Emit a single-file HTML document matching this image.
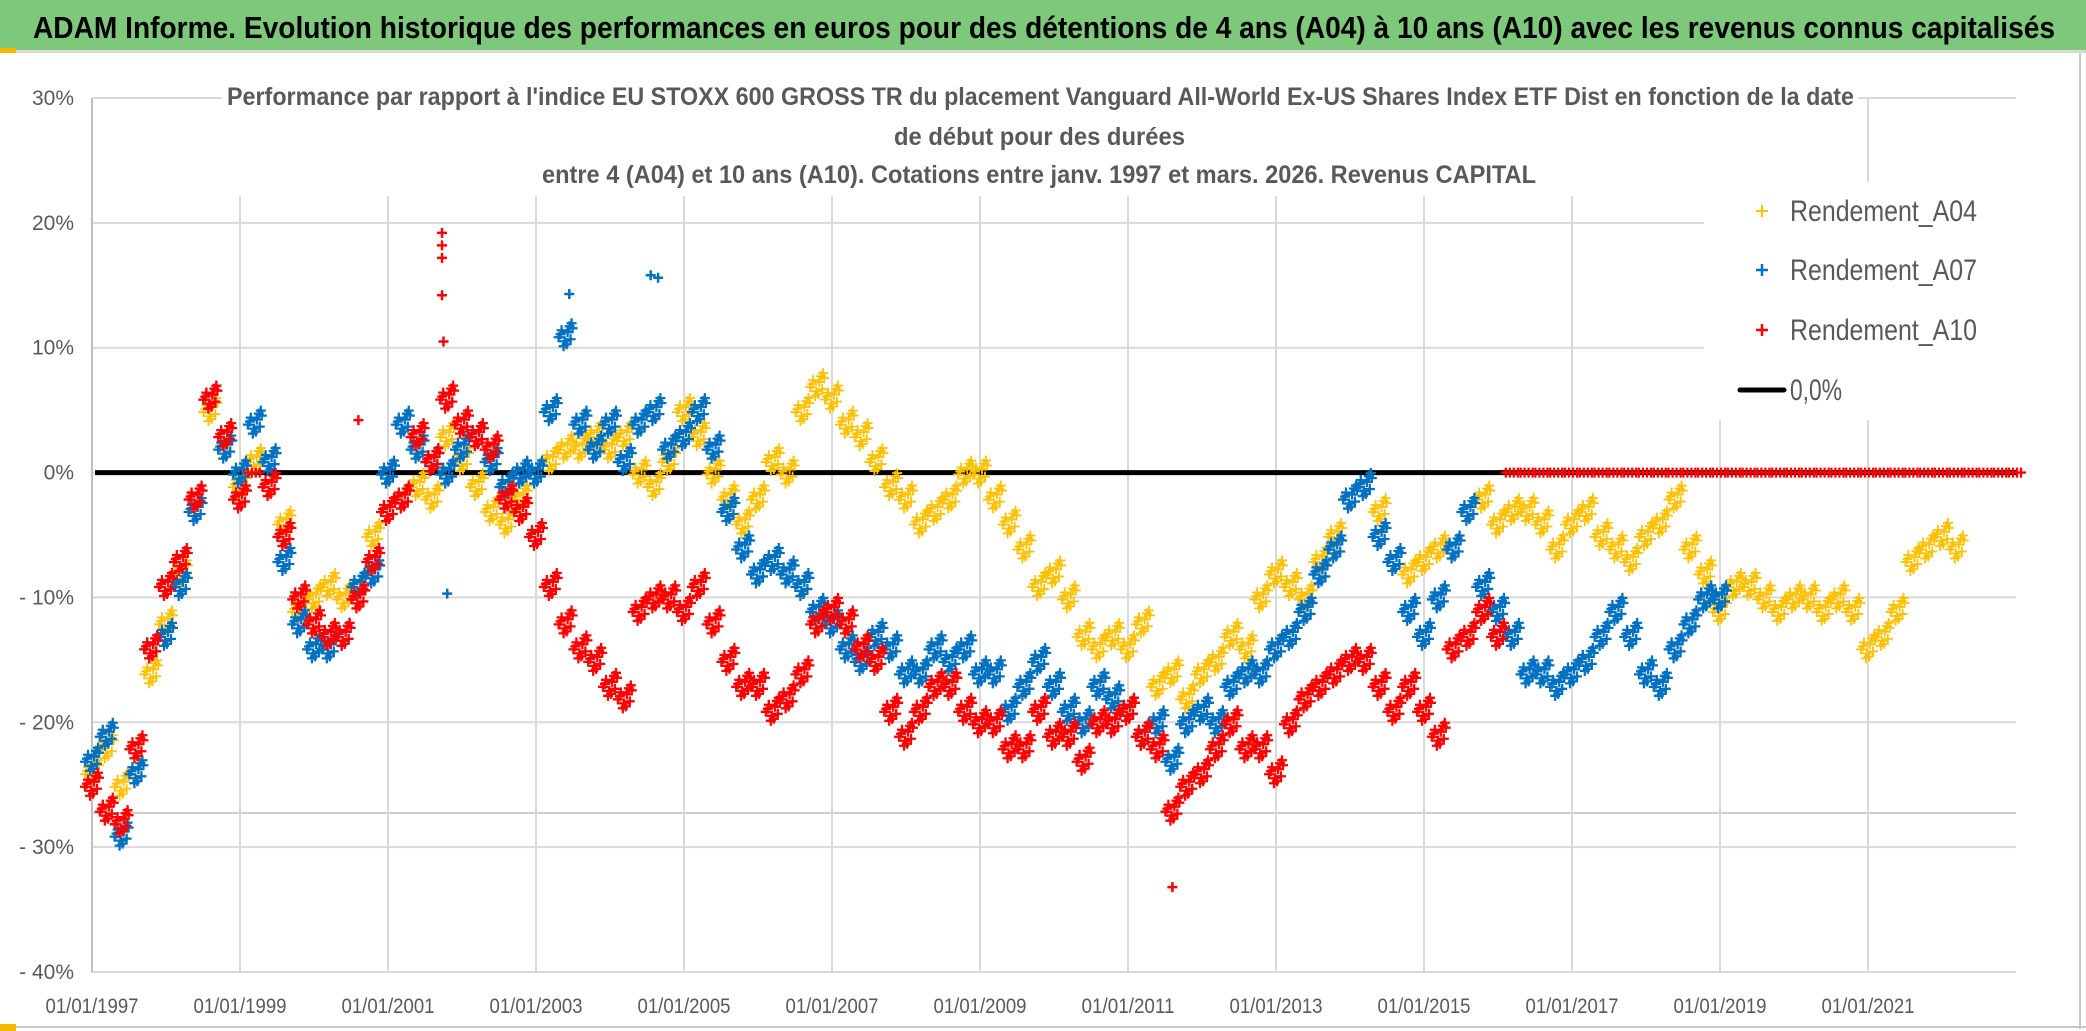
<!DOCTYPE html>
<html><head><meta charset="utf-8"><style>
html,body{margin:0;padding:0;background:#fff;}
svg{display:block;}
</style></head><body>
<svg id="chart" width="2086" height="1031" viewBox="0 0 2086 1031" xmlns="http://www.w3.org/2000/svg">
  <rect x="0" y="0" width="2086" height="1031" fill="#ffffff"/>
  <rect x="0" y="0" width="2086" height="50" fill="#7dc87b"/>
  <rect x="0" y="50" width="2086" height="3" fill="#d8d8d8"/>
  <rect x="0" y="48" width="16" height="5" fill="#f5b800"/>
  <text x="33" y="38" font-family="'Liberation Sans Narrow','Liberation Sans',sans-serif" font-weight="bold" font-size="31" fill="#000" textLength="2022" lengthAdjust="spacingAndGlyphs">ADAM Informe. Evolution historique des performances en euros pour des détentions de 4 ans (A04) à 10 ans (A10) avec les revenus connus capitalisés</text>
  <g id="grid"></g>
  <g id="axes"></g>
  <rect x="222" y="78" width="1636" height="118" fill="#ffffff"/>
  <g font-family="'Liberation Sans Narrow','Liberation Sans',sans-serif" font-size="25" fill="#595959" font-weight="bold">
    <text x="227" y="105" textLength="1627" lengthAdjust="spacingAndGlyphs">Performance par rapport à l'indice EU STOXX 600 GROSS TR  du placement Vanguard All-World Ex-US Shares Index ETF Dist en fonction de la date</text>
    <text x="894" y="145" textLength="291" lengthAdjust="spacingAndGlyphs">de début pour des durées</text>
    <text x="542" y="183" textLength="994" lengthAdjust="spacingAndGlyphs">entre 4 (A04) et 10 ans (A10). Cotations entre janv. 1997 et mars. 2026. Revenus CAPITAL</text>
  </g>
  <g id="zero"></g>
  <g id="series"></g>
  <rect x="1704" y="182" width="312" height="238" fill="#ffffff"/>
  <g font-family="'Liberation Sans Narrow','Liberation Sans',sans-serif" font-size="30" fill="#595959">
    <g>
      <path d="M1756 211h12M1762 205v12" stroke="#ffc000" stroke-width="2"/>
      <text x="1790" y="221" textLength="187" lengthAdjust="spacingAndGlyphs">Rendement_A04</text>
    </g>
    <g>
      <path d="M1756 270h12M1762 264v12" stroke="#0070c0" stroke-width="2.5"/>
      <text x="1790" y="280" textLength="187" lengthAdjust="spacingAndGlyphs">Rendement_A07</text>
    </g>
    <g>
      <path d="M1756 330h12M1762 324v12" stroke="#ff0000" stroke-width="2.5"/>
      <text x="1790" y="340" textLength="187" lengthAdjust="spacingAndGlyphs">Rendement_A10</text>
    </g>
    <g>
      <line x1="1740" y1="390" x2="1784" y2="390" stroke="#000" stroke-width="5" stroke-linecap="round"/>
      <text x="1790" y="400" textLength="52" lengthAdjust="spacingAndGlyphs">0,0%</text>
    </g>
  </g>
  <rect x="2079" y="53" width="2" height="976" fill="#c8c8c8"/>
  <rect x="0" y="1026" width="2086" height="2" fill="#c8c8c8"/>
  <rect x="0" y="1024" width="16" height="7" fill="#f5b800"/>
</svg>
<script>
// ---- chart data ----
const xTickYears = [1997,1999,2001,2003,2005,2007,2009,2011,2013,2015,2017,2019,2021];
const xTickLabels = ["01/01/1997","01/01/1999","01/01/2001","01/01/2003","01/01/2005","01/01/2007","01/01/2009","01/01/2011","01/01/2013","01/01/2015","01/01/2017","01/01/2019","01/01/2021"];
const yTickValues = [30,20,10,0,-10,-20,-30,-40];
const yTickLabels = ["30%","20%","10%","0%","- 10%","- 20%","- 30%","- 40%"];
const seriesStart = 1997.0;
const seriesStep = 0.2;
const a04Values = [-24,-22,-25,-24,-16, -12,-8,-3,5,2, -1,1,-1,-4,-11, -10,-9,-10,-9,-5, -3,-2,-1,-2,3,
  1,-1,-3,-4,-2, 0,1,2,2,3, 2,3,0,-1,1, 5,3,0,-2,-4, -2,1,0,5,7, 6,4,3,1,-1, -2,-4,-3,-2,0,
  0,-2,-4,-6,-9, -8,-10,-13,-14,-13, -14,-12,-17,-16,-18, -16,-15,-13,-14,-10, -8,-9,-10,-7,-5,
  -2,-1,-3,-7,-8, -7,-6,-6,-3,-2, -4,-3,-3,-4,-6, -4,-3,-5,-6,-7, -5,-4,-2,-6,-8,
  -11,-9,-9,-10,-11, -10,-10,-11,-10,-11, -14,-13,-11,-7,-6, -5,-6];
const a07Values = [-23,-21,-29,-24,-14, -13,-9,-3,6,2, 0,4,1,-7,-12, -14,-14,-13,-9,-8, 0,4,2,1,0,
  2,3,1,-1,0, 0,5,11,4,2, 4,1,4,5,2, 3,5,2,-3,-6, -8,-7,-8,-9,-11, -12,-14,-15,-13,-14,
  -16,-16,-14,-15,-14, -16,-16,-19,-17,-15, -17,-19,-20,-17,-18, -19,-21,-20,-23,-20,
  -19,-20,-17,-16,-16, -14,-13,-11,-8,-6, -2,-1,-5,-7,-11, -13,-10,-6,-3,-9,
  -11,-13,-16,-16,-17, -16,-15,-13,-11,-13, -16,-17,-14,-12,-10, -10];
const a10Values = [-25,-27,-28,-22,-14, -9,-7,-2,6,3, -2,0,-1,-5,-10, -12,-13,-13,-10,-7, -3,-2,3,1,6,
  4,3,2,-2,-3, -5,-9,-12,-14,-15, -17,-18,-11,-10,-10, -11,-9,-12,-15,-17, -17,-19,-18,-16,-12,
  -11,-12,-14,-15,-19, -21,-19,-17,-17,-19, -20,-20,-22,-22,-19, -21,-21,-23,-20,-20,
  -19,-21,-22,-27,-25, -24,-22,-20,-22,-22, -24,-20,-18,-17,-16, -15,-15,-17,-19,-17,
  -19,-21,-14,-13,-11, -13,
  0,0,0,0, 0,0,0,0,0, 0,0,0,0,0, 0,0,0,0,0, 0,0,0,0,0, 0,0,0,0,0, 0,0,0,0,0, 0];
const outlierA07Years = [2003.45, 2004.55, 2004.65, 2001.8];
const outlierA07Values = [14.3, 15.8, 15.6, -9.7];
const outlierA10Years = [2001.73, 2001.73, 2001.73, 2001.73, 2001.75, 2011.6, 2000.6];
const outlierA10Values = [19.2, 18.2, 17.2, 14.2, 10.5, -33.2, 4.2];

// ---- axes ----
const PX0 = 92, PX1 = 2016, YEAR0 = 1997, YEAR1 = 2023;
const PY_TOP = 98, PY_BOT = 972, VMAX = 30, VMIN = -40;
function xScale(yr){ return PX0 + (yr - YEAR0) / (YEAR1 - YEAR0) * (PX1 - PX0); }
function yScale(v){ return PY_TOP + (VMAX - v) / (VMAX - VMIN) * (PY_BOT - PY_TOP); }
const NS = "http://www.w3.org/2000/svg";
function mk(tag, attrs, parent){ const e = document.createElementNS(NS, tag); for (const k in attrs) e.setAttribute(k, attrs[k]); parent.appendChild(e); return e; }

const grid = document.getElementById('grid');
const axes = document.getElementById('axes');
yTickValues.forEach((v, i) => {
  const gl = mk('line', {x1: PX0, x2: PX1, y1: yScale(v), y2: yScale(v), stroke: '#d9d9d9', 'stroke-width': 2}, grid);
  
  
  const t = mk('text', {x: 74, y: yScale(v) + 7, 'text-anchor': 'end', 'font-family': "'Liberation Sans Narrow','Liberation Sans',sans-serif", 'font-size': 21, fill: '#595959'}, axes);
  t.textContent = yTickLabels[i];
  
  
});
const extra = mk('line', {x1: PX0, x2: PX1, y1: 813, y2: 813, stroke: '#cfcfcf', 'stroke-width': 2}, grid);


xTickYears.forEach((yr, i) => {
  const x = xScale(yr);
  if (i > 0) {
    const gl = mk('line', {x1: x, x2: x, y1: PY_TOP, y2: PY_BOT, stroke: '#d9d9d9', 'stroke-width': 2}, grid);
    
    
  }
  const t = mk('text', {x: x, y: 1013, 'text-anchor': 'middle', 'font-family': "'Liberation Sans Narrow','Liberation Sans',sans-serif", 'font-size': 21, fill: '#595959', textLength: 93, lengthAdjust: 'spacingAndGlyphs'}, axes);
  t.textContent = xTickLabels[i];
  
  
});
const yAxis = mk('line', {x1: PX0, x2: PX0, y1: PY_TOP, y2: PY_BOT, stroke: '#bfbfbf', 'stroke-width': 2}, axes);



const zl = mk('line', {x1: PX0 + 3, x2: PX1, y1: yScale(0), y2: yScale(0), stroke: '#000', 'stroke-width': 5}, document.getElementById('zero'));



// ---- series ----
const series = document.getElementById('series');
const clusterDx = [-7, -4, -1, 2, 5, 7, -5, 1, 4, -2, 6];
const clusterDy = [2, -5, 6, -3, 4, -7, -1, 9, -9, 11, -12];
const flatDx = [-7, -3, 1, 5];
function drawSeries(values, color, name, sw){
  const g = mk('g', {stroke: color, 'stroke-width': sw, fill: 'none'}, series);
  
  
  let d = '';
  values.forEach((v, i) => {
    const cx = xScale(seriesStart + i * seriesStep), cy = yScale(v);
    const flat = (v === 0 && name === 'series-a10');
    const n = flat ? flatDx.length : clusterDx.length;
    for (let k = 0; k < n; k++) {
      const x = cx + (flat ? flatDx[k] : clusterDx[k]);
      const y = cy + (flat ? 0 : clusterDy[k]);
      d += 'M' + (x - 5) + ' ' + y + 'h10M' + x + ' ' + (y - 5) + 'v10';
    }
  });
  const p = mk('path', {d: d}, g);
  
  
  return g;
}
function drawOutliers(years, values, color, name){
  let d = '';
  years.forEach((yr, i) => { const x = xScale(yr), y = yScale(values[i]); d += 'M' + (x - 5) + ' ' + y + 'h10M' + x + ' ' + (y - 5) + 'v10'; });
  const p = mk('path', {d: d, stroke: color, 'stroke-width': 2.5, fill: 'none'}, series);
  
  
}
drawSeries(a04Values, '#ffc000', 'series-a04', 1.8);
drawSeries(a07Values, '#0070c0', 'series-a07', 2.3);
drawOutliers(outlierA07Years, outlierA07Values, '#0070c0', 'series-a07-outliers');
drawSeries(a10Values, '#ff0000', 'series-a10', 2.3);
drawOutliers(outlierA10Years, outlierA10Values, '#ff0000', 'series-a10-outliers');
</script>
</body></html>
